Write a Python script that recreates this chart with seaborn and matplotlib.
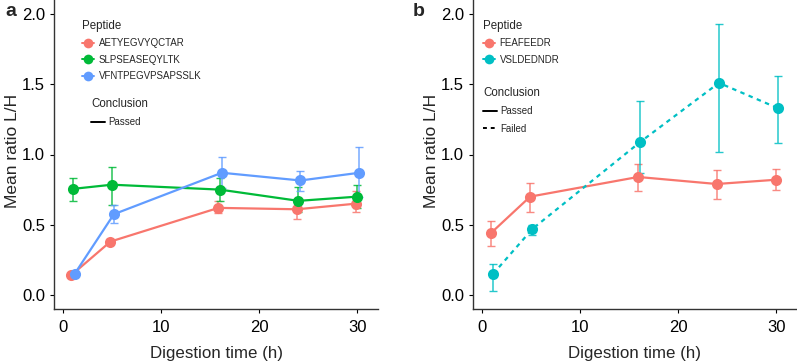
import matplotlib
matplotlib.use("Agg")
import matplotlib.pyplot as plt
from matplotlib.lines import Line2D
import seaborn as sns
import pandas as pd

# ---- data ----
times = [1, 5, 16, 24, 30]

# panel a
pep_a = ["AETYEGVYQCTAR", "SLPSEASEQYLTK", "VFNTPEGVPSAPSSLK"]
concl_a = ["Passed", "Passed", "Passed"]
mean_a = [[0.14, 0.38, 0.62, 0.61, 0.65],
          [0.755, 0.785, 0.75, 0.67, 0.70],
          [0.15, 0.575, 0.87, 0.815, 0.87]]
low_a = [[0.13, 0.36, 0.58, 0.54, 0.59],
         [0.67, 0.64, 0.67, 0.59, 0.62],
         [0.14, 0.51, 0.76, 0.74, 0.70]]
high_a = [[0.15, 0.40, 0.67, 0.68, 0.74],
          [0.83, 0.91, 0.83, 0.77, 0.785],
          [0.16, 0.64, 0.985, 0.885, 1.05]]

# panel b
pep_b = ["FEAFEEDR", "VSLDEDNDR"]
concl_b = ["Passed", "Failed"]
mean_b = [[0.44, 0.70, 0.84, 0.79, 0.82],
          [0.15, 0.47, 1.09, 1.51, 1.33]]
low_b = [[0.35, 0.59, 0.74, 0.68, 0.75],
         [0.03, 0.43, 0.87, 1.02, 1.08]]
high_b = [[0.53, 0.80, 0.93, 0.89, 0.90],
          [0.22, 0.50, 1.38, 1.93, 1.56]]

colors_a = ["#F8766D", "#00BA38", "#619CFF"]
colors_b = ["#F8766D", "#00BFC4"]
dodge_a = [-0.15, 0.0, 0.2]
dodge_b = [-0.08, 0.15]

sns.set_style("ticks")
plt.rcParams["font.family"] = ["Liberation Sans", "DejaVu Sans"]

W, H = 797, 363
fig = plt.figure(figsize=(W / 100, H / 100), dpi=100)
ax_a = fig.add_axes([54/W, 54/H, 324/W, 309/H])
ax_b = fig.add_axes([473/W, 54/H, 324/W, 309/H])


def draw(ax, peps, concls, means, lows, highs, colors, dodges, leg1_xy, leg2_xy):
    rows = []
    for p, c, m, lo, hi, d in zip(peps, concls, means, lows, highs, dodges):
        for t, mm, l, h in zip(times, m, lo, hi):
            rows.append(dict(peptide=p, conclusion=c, x=t + d, mean=mm, low=l, high=h))
    df = pd.DataFrame(rows)
    pal = dict(zip(peps, colors))
    for p in peps:
        sub = df[df.peptide == p]
        ax.errorbar(sub.x, sub["mean"],
                    yerr=[sub["mean"] - sub.low, sub.high - sub["mean"]],
                    fmt="none", ecolor=pal[p], elinewidth=1.1, capsize=3,
                    capthick=1.0, alpha=0.85, zorder=2)
    sns.lineplot(data=df, x="x", y="mean", hue="peptide", style="conclusion",
                 palette=pal, hue_order=peps,
                 style_order=["Passed", "Failed"],
                 dashes={"Passed": "", "Failed": (2, 2)},
                 markers={"Passed": "o", "Failed": "o"},
                 markersize=8, markeredgewidth=0, linewidth=1.6,
                 estimator=None, sort=True, legend=False, ax=ax, zorder=3)
    ax.set_xlim(-0.9, 32.1)
    ax.set_ylim(-0.1, 2.1)
    ax.set_xticks([0, 10, 20, 30])
    ax.set_yticks([0.0, 0.5, 1.0, 1.5, 2.0])
    ax.set_yticklabels(["0.0", "0.5", "1.0", "1.5", "2.0"])
    ax.tick_params(labelsize=12, length=3, width=0.8, color="black",
                   labelcolor="black")
    ax.tick_params(axis="x", pad=5)
    for s in ["top", "right"]:
        ax.spines[s].set_visible(False)
    for s in ["left", "bottom"]:
        ax.spines[s].set_color("#333333")
        ax.spines[s].set_linewidth(1.0)
    ax.set_xlabel("Digestion time (h)", fontsize=12.2, labelpad=8)
    ax.set_ylabel("Mean ratio L/H", fontsize=12.5)
    ax.yaxis.set_label_coords(-0.105, 0.51)

    h1 = [Line2D([0], [0], color=c, marker="o", markersize=7, lw=1.4,
                 markeredgewidth=0) for c in colors]
    leg1 = ax.legend(h1, peps, title="Peptide", loc="upper left",
                     bbox_to_anchor=leg1_xy, frameon=False, fontsize=7,
                     title_fontsize=8.3, handlelength=1.2, handletextpad=0.5,
                     labelspacing=0.65, alignment="left", borderaxespad=0,
                     borderpad=0)
    ax.add_artist(leg1)
    cl = sorted(set(concls), key=["Passed", "Failed"].index)
    h2 = [Line2D([0], [0], color="black", lw=1.4,
                 linestyle="-" if c == "Passed" else (0, (2, 2))) for c in cl]
    ax.legend(h2, cl, title="Conclusion", loc="upper left",
              bbox_to_anchor=leg2_xy, frameon=False, fontsize=7,
              title_fontsize=8.3, handlelength=1.4, handletextpad=0.4,
              labelspacing=0.75, alignment="left", borderaxespad=0,
              borderpad=0)


draw(ax_a, pep_a, concl_a, mean_a, low_a, high_a, colors_a, dodge_a,
     ((82 - 54) / 324, (309 - 20) / 309), ((91 - 54) / 324, (309 - 98) / 309))
draw(ax_b, pep_b, concl_b, mean_b, low_b, high_b, colors_b, dodge_b,
     ((483 - 473) / 324, (309 - 20) / 309), ((483 - 473) / 324, (309 - 87) / 309))

fig.text(5/W, 1 - 12/H, "a", fontsize=14, fontweight="bold", va="center")
fig.text(413/W, 1 - 12/H, "b", fontsize=14, fontweight="bold", va="center")

fig.savefig("out.png", dpi=100)
